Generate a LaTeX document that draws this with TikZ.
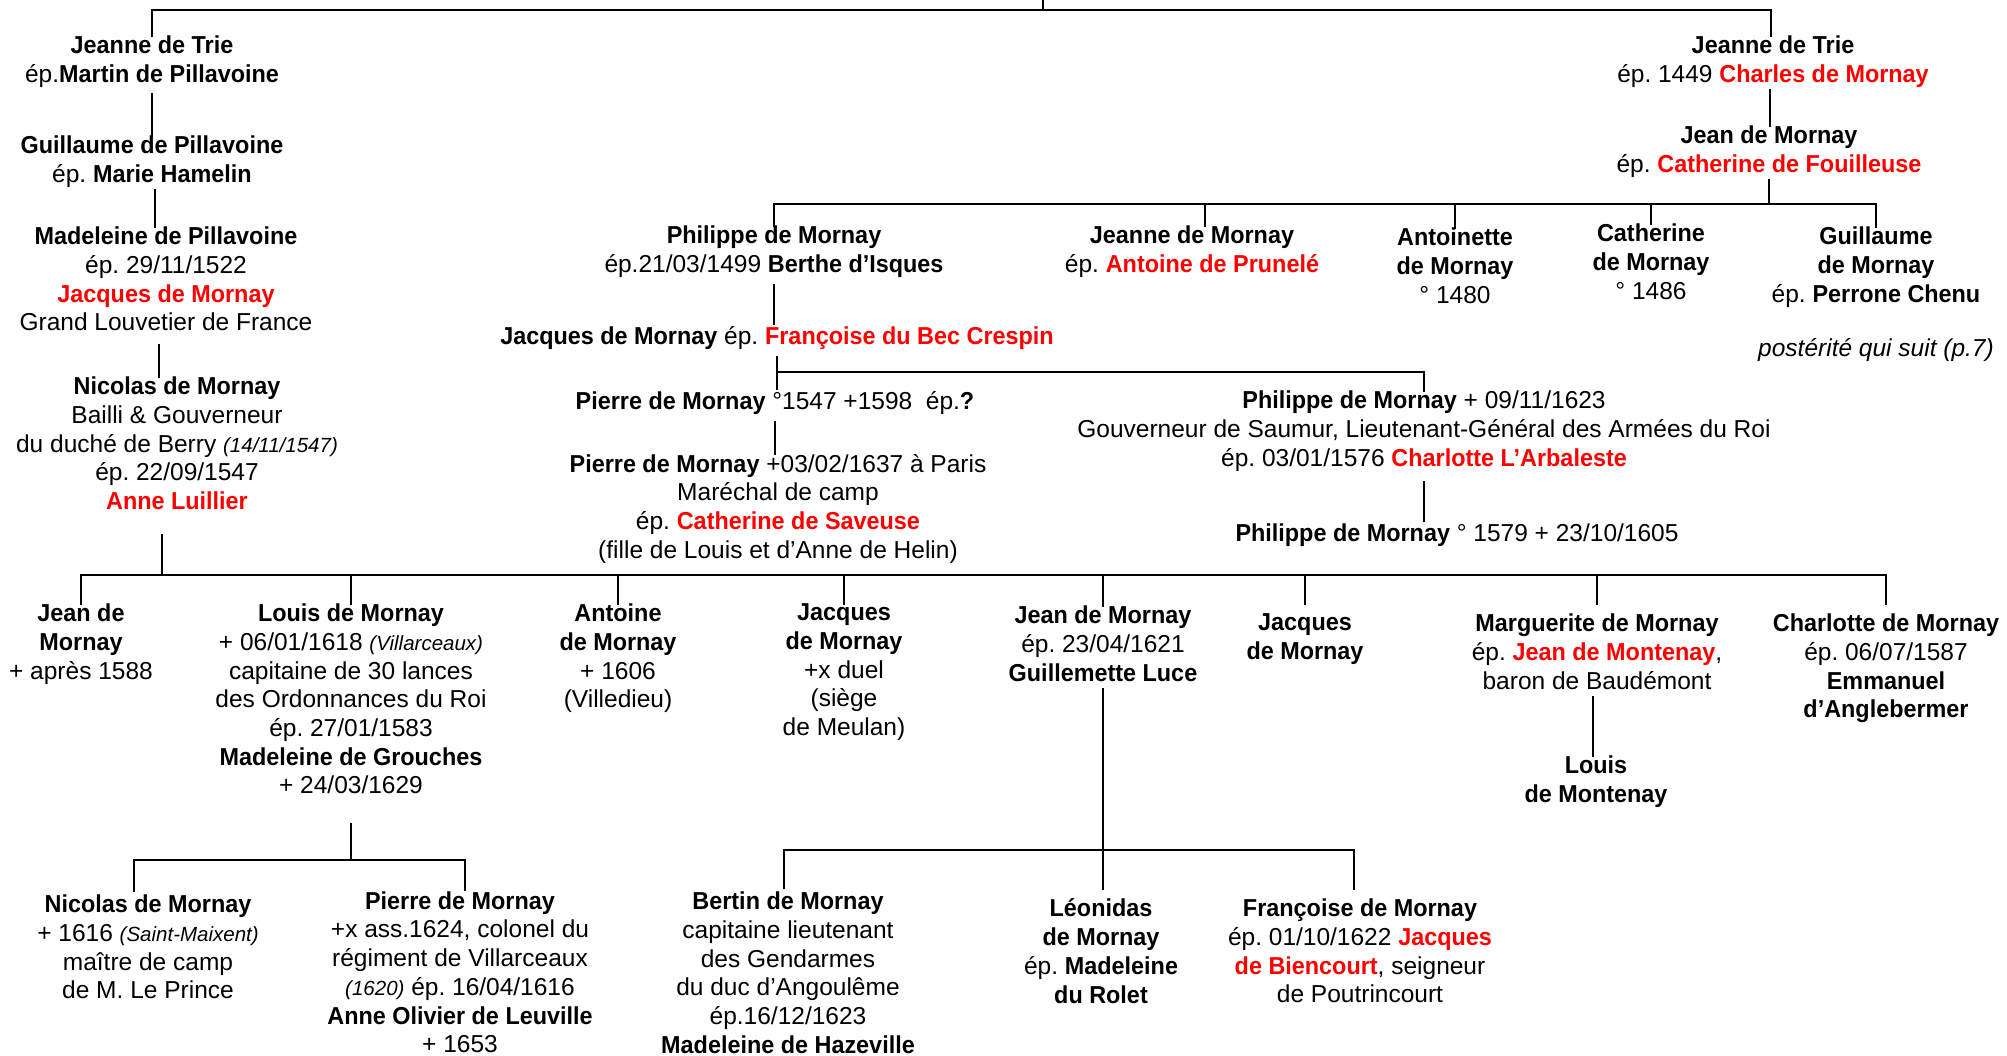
\documentclass[tikz,border=0pt]{standalone}
\usepackage{fontspec}
\setmainfont[BoldFeatures={FakeStretch=0.955}]{Liberation Sans}
\definecolor{myred}{RGB}{255,0,0}
\newcommand{\rd}[1]{\textcolor{myred}{\textbf{#1}}}
\newcommand{\bd}[1]{\textbf{#1}}
\newcommand{\smit}[1]{{\fontsize{20.5}{28.7}\selectfont\itshape #1}}
\frenchspacing
\begin{document}
\begin{tikzpicture}[x=1pt,y=-1pt,
  person/.style={anchor=north, align=center, inner sep=0pt,
    font=\fontsize{24.5}{28.7}\selectfont\frenchspacing,
    execute at begin node=\rule{0pt}{20pt},
    execute at end node=\rule[-8pt]{0pt}{8pt}},
  link/.style={line width=2.6pt, line cap=rect}]
\useasboundingbox (0,0) rectangle (2007,1055);

% left column
\node[person] (nL1) at (152,35.8) {\bd{Jeanne de Trie}\\ép.\bd{Martin de Pillavoine}};
\node[person] (nL2) at (152,135.8) {\bd{Guillaume de Pillavoine}\\ép. \bd{Marie Hamelin}};
\node[person] (nL3) at (166,226.8) {\bd{Madeleine de Pillavoine}\\ép. 29/11/1522\\\rd{Jacques de Mornay}\\Grand Louvetier de France};
\node[person] (nL4) at (177,376.8) {\bd{Nicolas de Mornay}\\Bailli \& Gouverneur\\du duché de Berry \smit{(14/11/1547)}\\ép. 22/09/1547\\\rd{Anne Luillier}};

% right branch
\node[person] (nR1) at (1773,35.8) {\bd{Jeanne de Trie}\\ép. 1449 \rd{Charles de Mornay}};
\node[person] (nR2) at (1769,125.8) {\bd{Jean de Mornay}\\ép. \rd{Catherine de Fouilleuse}};
\node[person] (nPh) at (774,225.8) {\bd{Philippe de Mornay}\\ép.21/03/1499 \bd{Berthe d’Isques}};
\node[person] (nJM) at (1192,225.8) {\bd{Jeanne de Mornay}\\ép. \rd{Antoine de Prunelé}};
\node[person] (nAn) at (1455,227.8) {\bd{Antoinette}\\\bd{de Mornay}\\° 1480};
\node[person] (nCa) at (1651,223.8) {\bd{Catherine}\\\bd{de Mornay}\\° 1486};
\node[person] (nGu) at (1876,226.8) {\bd{Guillaume}\\\bd{de Mornay}\\ép. \bd{Perrone Chenu}};
\node[person] (nPo) at (1876,335.8) {\itshape postérité qui suit (p.7)};
\node[person] (nJa) at (777,323.8) {\bd{Jacques de Mornay} ép. \rd{Françoise du Bec Crespin}};
\node[person] (nPi1) at (775,388.8) {\bd{Pierre de Mornay} °1547 +1598\ \ ép.\bd{?}};
\node[person] (nPi2) at (778,453.8) {\bd{Pierre de Mornay} +03/02/1637 à Paris\\Maréchal de camp\\ép. \rd{Catherine de Saveuse}\\(fille de Louis et d’Anne de Helin)};
\node[person] (nPh2) at (1424,390.8) {\bd{Philippe de Mornay} + 09/11/1623\\Gouverneur de Saumur, Lieutenant-Général des Armées du Roi\\ép. 03/01/1576 \rd{Charlotte L’Arbaleste}};
\node[person] (nPh3) at (1457,520.8) {\bd{Philippe de Mornay} ° 1579 + 23/10/1605};

% generation row
\node[person] (nC1) at (81,603.8) {\bd{Jean de}\\\bd{Mornay}\\+ après 1588};
\node[person] (nC2) at (351,603.8) {\bd{Louis de Mornay}\\+ 06/01/1618 \smit{(Villarceaux)}\\capitaine de 30 lances\\des Ordonnances du Roi\\ép. 27/01/1583\\\bd{Madeleine de Grouches}\\+ 24/03/1629};
\node[person] (nC3) at (618,603.8) {\bd{Antoine}\\\bd{de Mornay}\\+ 1606\\(Villedieu)};
\node[person] (nC4) at (844,603.8) {\bd{Jacques}\\\bd{de Mornay}\\+x duel\\(siège\\de Meulan)};
\node[person] (nC5) at (1103,605.8) {\bd{Jean de Mornay}\\ép. 23/04/1621\\\bd{Guillemette Luce}};
\node[person] (nC6) at (1305,613.8) {\bd{Jacques}\\\bd{de Mornay}};
\node[person] (nC7) at (1597,613.8) {\bd{Marguerite de Mornay}\\ép. \rd{Jean de Montenay},\\baron de Baudémont};
\node[person] (nC8) at (1886,613.8) {\bd{Charlotte de Mornay}\\ép. 06/07/1587\\\bd{Emmanuel}\\\bd{d’Anglebermer}};
\node[person] (nLM) at (1596,755.8) {\bd{Louis}\\\bd{de Montenay}};

% bottom row
\node[person] (nB1) at (148,894.8) {\bd{Nicolas de Mornay}\\+ 1616 \smit{(Saint-Maixent)}\\maître de camp\\de M. Le Prince};
\node[person] (nB2) at (460,891.3) {\bd{Pierre de Mornay}\\+x ass.1624, colonel du\\régiment de Villarceaux\\\smit{(1620)} ép. 16/04/1616\\\bd{Anne Olivier de Leuville}\\+ 1653};
\node[person] (nB3) at (788,891.8) {\bd{Bertin de Mornay}\\capitaine lieutenant\\des Gendarmes\\du duc d’Angoulême\\ép.16/12/1623\\\bd{Madeleine de Hazeville}};
\node[person] (nB4) at (1101,898.8) {\bd{Léonidas}\\\bd{de Mornay}\\ép. \bd{Madeleine}\\\bd{du Rolet}};
\node[person] (nB5) at (1360,898.8) {\bd{Françoise de Mornay}\\ép. 01/10/1622 \rd{Jacques}\\\rd{de Biencourt}, seigneur\\de Poutrincourt};

% connectors
\coordinate (root) at (1043,0);
\coordinate (topbar) at (1043,10);
\draw[link] (root) -- (topbar);
\draw[link] (nL1.north) |- (topbar) -| ([xshift=-2pt]nR1.north);

\draw[link,shorten <=4pt] (nL1.south) -- (nL1.south |- nL2.north);
\draw[link] ([xshift=3pt]nL2.south) -- ([xshift=3pt]nL2.south |- nL3.north);
\draw[link,shorten <=6pt] ([xshift=-7pt]nL3.south) -- ([xshift=-7pt]nL3.south |- nL4.north);

\coordinate (bar1) at (0,575);
\draw[link,shorten <=18pt] ([xshift=-15pt]nL4.south) -- ([xshift=-15pt]nL4.south |- bar1);
\draw[link] (nC1.north |- bar1) -- (nC8.north |- bar1);
\foreach \n in {nC1,nC2,nC3,nC4,nC5} \draw[link] (\n.north |- bar1) -- (\n.north);
\foreach \n in {nC6,nC7,nC8} \draw[link,shorten >=10pt] (\n.north |- bar1) -- (\n.north);

\draw[link] ([xshift=-3pt]nR1.south) -- ([xshift=-3pt]nR1.south |- nR2.north);
\coordinate (bar2) at (0,204);
\draw[link] (nR2.south) -- (nR2.south |- bar2);
\draw[link] (nPh.north) |- (nGu.north |- bar2) -- (nGu.north);
\foreach \n in {nAn,nCa} \draw[link] (\n.north |- bar2) -- (\n.north);
\draw[link] ([xshift=13pt]nJM.north |- bar2) -- ([xshift=13pt]nJM.north);

\draw[link,shorten <=5pt] (nPh.south) -- (nPh.south |- nJa.north);
\coordinate (bar3) at (0,372);
\draw[link,shorten <=5pt] (nJa.south) -- (nJa.south |- nPi1.north);
\draw[link] (nJa.south |- bar3) -| (nPh2.north);
\draw[link,shorten <=5pt] (nPi1.south) -- (nPi1.south |- nPi2.north);
\draw[link,shorten <=8pt] (nPh2.south) -- (nPh2.south |- nPh3.north);

\coordinate (bar4) at (0,860);
\draw[link,shorten <=22pt] (nC2.south) -- (nC2.south |- bar4);
\draw[link] ([xshift=-14pt,yshift=4pt]nB1.north) |- ([xshift=5pt]nB2.north |- bar4) -- ([xshift=5pt,yshift=2pt]nB2.north);

\coordinate (bar5) at (0,850);
\draw[link,shorten >=10pt] (nC5.south) -- (nC5.south |- nB4.north);
\draw[link] ([xshift=-4pt,yshift=4pt]nB3.north) |- ([xshift=-6pt]nB5.north |- bar5) -- ([xshift=-6pt,yshift=10pt]nB5.north);

\draw[link] ([xshift=-4pt]nC7.south) -- ([xshift=-4pt]nC7.south |- nLM.north);
\end{tikzpicture}
\end{document}
